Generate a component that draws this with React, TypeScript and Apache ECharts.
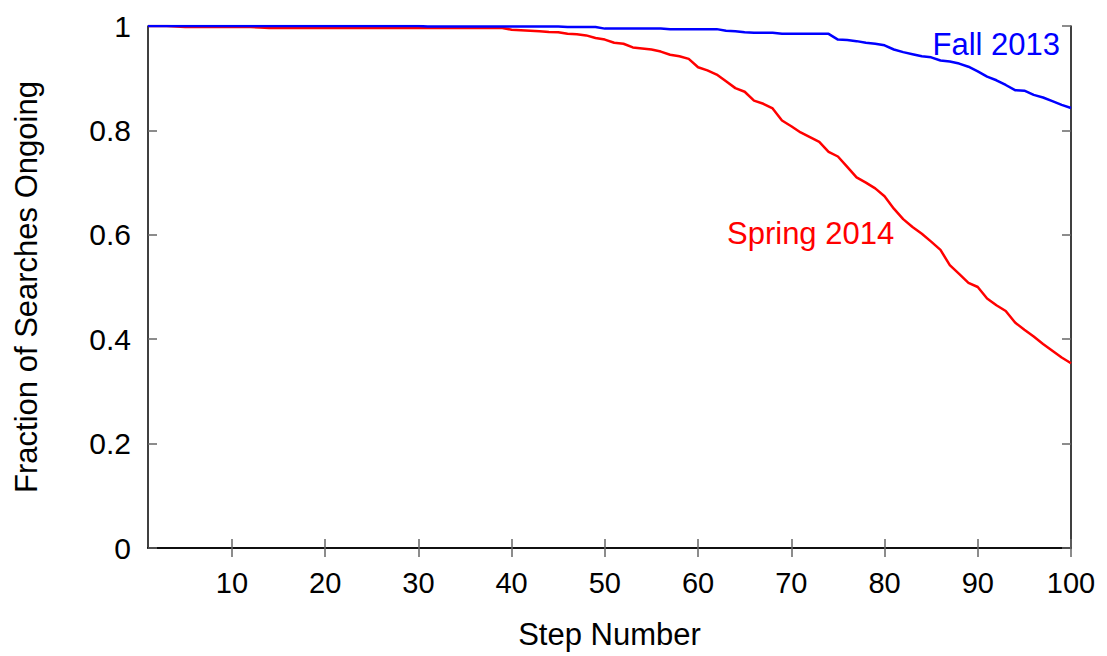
import React, { useEffect, useRef } from "react";
import * as echarts from "echarts";

const steps: number[] = Array.from({ length: 100 }, (_, i) => i + 1);

const fall2013: number[] = [
  1.0, 1.0, 1.0, 1.0, 1.0, 1.0, 1.0, 1.0, 1.0, 1.0,
  1.0, 1.0, 1.0, 1.0, 1.0, 1.0, 1.0, 1.0, 1.0, 1.0,
  1.0, 1.0, 1.0, 1.0, 1.0, 1.0, 1.0, 1.0, 1.0, 1.0,
  0.999, 0.999, 0.999, 0.999, 0.999, 0.999, 0.999, 0.999, 0.999, 0.999,
  0.999, 0.999, 0.999, 0.999, 0.999, 0.998, 0.998, 0.998, 0.998, 0.995,
  0.995, 0.995, 0.995, 0.995, 0.995, 0.995, 0.994, 0.994, 0.994, 0.994,
  0.994, 0.994, 0.991, 0.99, 0.988, 0.987, 0.987, 0.987, 0.985, 0.985,
  0.985, 0.985, 0.985, 0.985, 0.974, 0.973, 0.971, 0.968, 0.966, 0.963,
  0.955, 0.95, 0.946, 0.942, 0.94, 0.934, 0.932, 0.928, 0.922, 0.913,
  0.903, 0.896, 0.887, 0.877, 0.876, 0.868, 0.863, 0.856, 0.849, 0.843,
];

const spring2014: number[] = [
  1.0, 1.0, 1.0, 0.999, 0.998, 0.998, 0.998, 0.998, 0.998, 0.998,
  0.998, 0.998, 0.997, 0.996, 0.996, 0.996, 0.996, 0.996, 0.996, 0.996,
  0.996, 0.996, 0.996, 0.996, 0.996, 0.996, 0.996, 0.996, 0.996, 0.996,
  0.996, 0.996, 0.996, 0.996, 0.996, 0.996, 0.996, 0.996, 0.996, 0.993,
  0.992, 0.991, 0.99, 0.9885, 0.988, 0.985, 0.984, 0.982, 0.977, 0.974,
  0.968, 0.966, 0.959, 0.957, 0.955, 0.951, 0.945, 0.942, 0.937, 0.921,
  0.915, 0.907, 0.894, 0.881, 0.874, 0.857, 0.851, 0.842, 0.819, 0.808,
  0.796, 0.787, 0.778, 0.759, 0.75, 0.73, 0.71, 0.7, 0.689, 0.674,
  0.65, 0.63, 0.615, 0.602, 0.587, 0.571, 0.542, 0.525, 0.508, 0.5,
  0.478, 0.465, 0.454, 0.432, 0.418, 0.405, 0.391, 0.378, 0.365, 0.354,
];

const xTicks: number[] = [10, 20, 30, 40, 50, 60, 70, 80, 90, 100];

const FONT = "'Liberation Sans', Arial, sans-serif";

export default function App() {
  const ref = useRef<HTMLDivElement>(null);
  useEffect(() => {
    if (!ref.current) return;
    const chart = echarts.init(ref.current, undefined, { renderer: "svg" });
    const axisLine = { show: true, lineStyle: { color: "#000", width: 1.5 } };
    const tick = { show: true, inside: true, length: 9, lineStyle: { color: "#666", width: 1.5 } };
    chart.setOption({
      animation: false,
      backgroundColor: "#fff",
      grid: { left: 148, right: 36, top: 26, bottom: 108, containLabel: false },
      xAxis: [
        {
          type: "value",
          position: "bottom",
          min: 1,
          max: 100,
          name: "Step Number",
          nameLocation: "middle",
          nameGap: 71,
          nameTextStyle: { fontFamily: FONT, fontSize: 31, color: "#000" },
          axisLine,
          axisTick: { ...tick, customValues: xTicks },
          axisLabel: { customValues: xTicks, fontFamily: FONT, fontSize: 29, color: "#000", margin: 20 },
          splitLine: { show: false },
        },
        {
          type: "value",
          position: "top",
          min: 1,
          max: 100,
          axisLine,
          axisTick: { ...tick, customValues: xTicks },
          axisLabel: { show: false },
          splitLine: { show: false },
        },
      ],
      yAxis: [
        {
          type: "value",
          position: "left",
          min: 0,
          max: 1,
          interval: 0.2,
          name: "Fraction of Searches Ongoing",
          nameLocation: "middle",
          nameGap: 106,
          nameTextStyle: { fontFamily: FONT, fontSize: 31, color: "#000" },
          axisLine,
          axisTick: tick,
          axisLabel: { fontFamily: FONT, fontSize: 30, color: "#000", margin: 17 },
          splitLine: { show: false },
        },
        {
          type: "value",
          position: "right",
          min: 0,
          max: 1,
          interval: 0.2,
          axisLine,
          axisTick: tick,
          axisLabel: { show: false },
          splitLine: { show: false },
        },
      ],
      series: [
        {
          name: "Fall 2013",
          type: "line",
          data: steps.map((s, i) => [s, fall2013[i]]),
          showSymbol: false,
          lineStyle: { color: "#0000ff", width: 2.5 },
          itemStyle: { color: "#0000ff" },
          z: 3,
        },
        {
          name: "Spring 2014",
          type: "line",
          data: steps.map((s, i) => [s, spring2014[i]]),
          showSymbol: false,
          lineStyle: { color: "#ff0000", width: 2.5 },
          itemStyle: { color: "#ff0000" },
          z: 2,
        },
      ],
      graphic: [
        {
          type: "text",
          right: 1107 - 1060,
          top: 29,
          style: { text: "Fall 2013", fill: "#0000ff", font: `31px ${FONT}` },
        },
        {
          type: "text",
          left: 727,
          top: 218,
          style: { text: "Spring 2014", fill: "#ff0000", font: `31px ${FONT}` },
        },
      ],
    });
    return () => chart.dispose();
  }, []);
  return (
    <div
      ref={ref}
      style={{ position: "fixed", left: 0, top: 0, width: 1107, height: 656, background: "#fff" }}
    />
  );
}
